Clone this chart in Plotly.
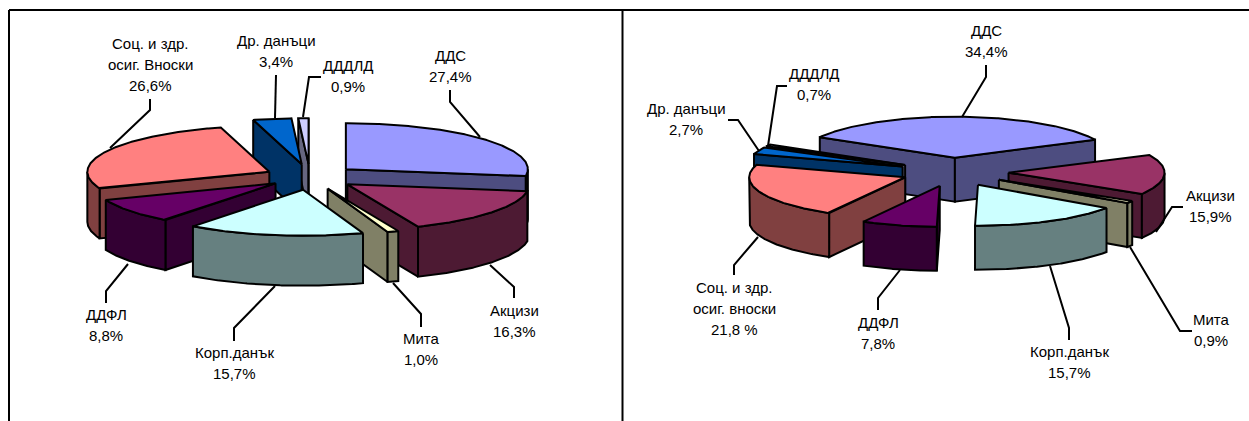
import numpy as np
import plotly.graph_objects as go

# ---------- data ----------
left_names = ["ДДС", "Акцизи", "Мита", "Корп.данък", "ДДФЛ", "Соц. и здр.<br>осиг. Вноски", "Др. данъци", "ДДДЛД"]
left_values = [27.4, 16.3, 1.0, 15.7, 8.8, 26.6, 3.4, 0.9]
left_value_text = ["27,4%", "16,3%", "1,0%", "15,7%", "8,8%", "26,6%", "3,4%", "0,9%"]

right_names = ["ДДС", "Акцизи", "Мита", "Корп.данък", "ДДФЛ", "Соц. и здр.<br>осиг. вноски", "Др. данъци", "ДДДЛД"]
right_values = [34.4, 15.9, 0.9, 15.7, 7.8, 21.8, 2.7, 0.7]
right_value_text = ["34,4%", "15,9%", "0,9%", "15,7%", "7,8%", "21,8 %", "2,7%", "0,7%"]

# ---------- styles and layout ----------
top_colors = ["#9999FF", "#993366", "#FFFFCC", "#CCFFFF", "#660066", "#FF8080", "#0066CC", "#CCCCFF"]
wall_colors = ["#4D4D80", "#4D1A33", "#808066", "#668080", "#330033", "#804040", "#003366", "#666680"]
draw_order = [0, 7, 6, 5, 4, 1, 2, 3]

left_pie = dict(cx=310, cy=177, rx=182, ry=46, depth=50, start=0,
                pull=[0.26, 0.26, 0.27, 0.28, 0.23, 0.25, 0.28, 0.28],
                nudge=[0, 0, 0, 1, -1, 0, 0, 0])
right_pie = dict(cx=953, cy=172, rx=156, ry=41, depth=44, start=300,
                 pull=[0.35] * 8,
                 nudge=[0, 1, 0, 0, 1, 3, 0, 0])

left_label_x = [450, 514, 421, 234, 106, 150, 276, 348]
left_label_y = [55, 310, 338, 352, 314, 43, 40, 65]
right_label_x = [986, 1210, 1211, 1069, 878, 734, 686, 814]
right_label_y = [30, 195, 319, 351, 322, 287, 108, 73]

left_leaders = [
    [(450, 90), (450, 102), (480, 137)],
    [(514, 298), (514, 287), (490, 265)],
    [(421, 327), (421, 314), (393, 283)],
    [(234, 341), (234, 328), (275, 286)],
    [(106, 303), (106, 291), (128, 264)],
    [(150, 99), (150, 110), (110, 148)],
    [(276, 75), (275, 118)],
    [(321, 77), (309, 77), (303, 117)],
]
right_leaders = [
    [(986, 65), (986, 77), (962, 117)],
    [(1183, 207), (1172, 207), (1156, 232)],
    [(1192, 331), (1180, 331), (1130, 247)],
    [(1069, 340), (1069, 328), (1050, 266)],
    [(878, 310), (878, 298), (900, 270)],
    [(734, 275), (734, 265), (758, 237)],
    [(728, 120), (738, 120), (759, 151)],
    [(787, 86), (777, 86), (768, 146)],
]

LINE_W = 2
FONT = dict(family="Liberation Sans, Arial, sans-serif", size=15, color="black")
LINE_GAP = 21

fig = go.Figure()


def add_poly(xs, ys, color):
    fig.add_trace(go.Scatter(x=list(xs), y=list(ys), mode="lines", fill="toself",
                             fillcolor=color, line=dict(color="black", width=LINE_W),
                             hoverinfo="skip", showlegend=False))


def arc(p, ax, ay, a, b, dz=0.0):
    t = np.radians(np.linspace(a, b, max(int(abs(b - a) * 2), 2)))
    return ax + p["rx"] * np.sin(t), ay - p["ry"] * np.cos(t) + dz


def draw_pie(p, values):
    total = sum(values)
    edges = p["start"] + np.concatenate([[0], np.cumsum(values)]) / total * 360.0
    for i in draw_order:
        a, b = edges[i], edges[i + 1]
        mid = np.radians((a + b) / 2)
        ax = p["cx"] + p["pull"][i] * p["rx"] * np.sin(mid) + p["nudge"][i]
        ay = p["cy"] - p["pull"][i] * p["ry"] * np.cos(mid)
        d = p["depth"]
        # radial cut faces that look toward the viewer
        for ang, visible in ((a, np.sin(np.radians(a)) < 0), (b, np.sin(np.radians(b)) > 0)):
            if visible:
                rx_, ry_ = arc(p, ax, ay, ang, ang + 0.001)
                rx_, ry_ = rx_[0], ry_[0]
                add_poly([ax, rx_, rx_, ax, ax], [ay, ry_, ry_ + d, ay + d, ay], wall_colors[i])
        # outer rim on the front half of the ellipse
        for k in (0, 1):
            lo, hi = max(a, 90 + 360 * k), min(b, 270 + 360 * k)
            if hi > lo:
                x1, y1 = arc(p, ax, ay, lo, hi)
                x2, y2 = arc(p, ax, ay, hi, lo, d)
                add_poly(np.r_[x1, x2, x1[0]], np.r_[y1, y2, y1[0]], wall_colors[i])
        # top face
        xt, yt = arc(p, ax, ay, a, b)
        add_poly(np.r_[ax, xt, ax], np.r_[ay, yt, ay], top_colors[i])


def draw_labels(names, vals, xs, ys, leaders):
    for name, val, x, y, lead in zip(names, vals, xs, ys, leaders):
        lines = name.split("<br>") + [val]
        for j, t in enumerate(lines):
            fig.add_annotation(x=x, y=y + j * LINE_GAP, text=t, showarrow=False,
                               xanchor="center", yanchor="middle", font=FONT)
        fig.add_trace(go.Scatter(x=[q[0] for q in lead], y=[q[1] for q in lead], mode="lines",
                                 line=dict(color="black", width=LINE_W),
                                 hoverinfo="skip", showlegend=False))


draw_pie(left_pie, left_values)
draw_pie(right_pie, right_values)
draw_labels(left_names, left_value_text, left_label_x, left_label_y, left_leaders)
draw_labels(right_names, right_value_text, right_label_x, right_label_y, right_leaders)

# panel frame
for x0, y0, x1, y1 in ((9, 10, 1249, 10), (9, 10, 9, 421), (622.5, 10, 622.5, 421)):
    fig.add_shape(type="line", x0=x0, y0=y0, x1=x1, y1=y1, line=dict(color="black", width=2))

fig.update_layout(
    width=1249, height=421, autosize=False,
    margin=dict(l=0, r=0, t=0, b=0),
    paper_bgcolor="white", plot_bgcolor="white",
    xaxis=dict(range=[0, 1249], visible=False, fixedrange=True),
    yaxis=dict(range=[421, 0], visible=False, fixedrange=True),
    showlegend=False,
)

fig.write_html("out.html", config={"displayModeBar": False},
               post_script="document.body.style.margin='0';document.body.style.overflow='hidden';")
